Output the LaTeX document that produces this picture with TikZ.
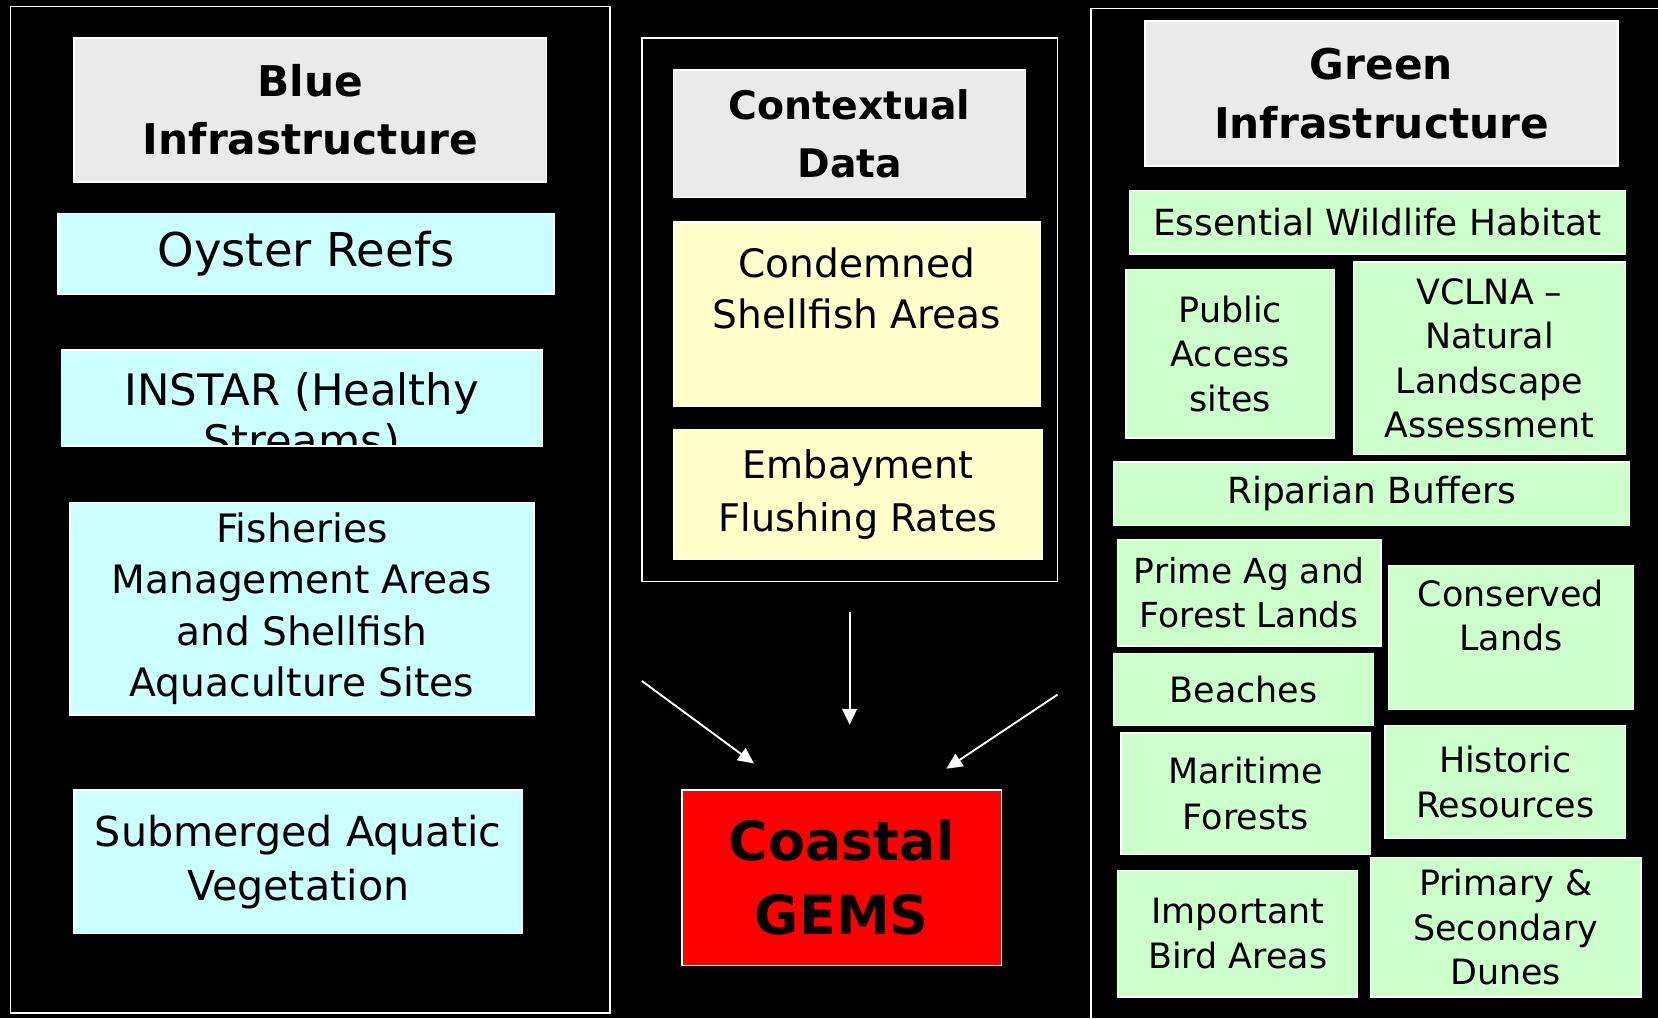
\documentclass[tikz,border=0pt]{standalone}
\usepackage{fontspec}
\setmainfont{DejaVu Sans}
\usetikzlibrary{arrows.meta}

\definecolor{headgray}{RGB}{234,234,234}
\definecolor{bluefill}{RGB}{204,255,255}
\definecolor{ctxfill}{RGB}{255,255,204}
\definecolor{greenfill}{RGB}{204,255,204}
\newcommand{\boxfont}[2]{\fontsize{#1}{#2}\selectfont}

\begin{document}
\begin{tikzpicture}[x=0.5pt,y=-0.5pt,>={Triangle[length=7.5pt,width=7pt]},
                    every node/.style={inner sep=0pt,align=center,text=black}]
  \tikzstyle{frame}=[rectangle,draw=white,line width=0.75pt]
  \tikzstyle{box}=[rectangle,draw=white,line width=0.7pt]
  \tikzstyle{headbox}=[box,fill=headgray,font=\bfseries\boxfont{20}{27.5}]
  \tikzstyle{bluebox}=[box,fill=bluefill]
  \tikzstyle{ctxbox}=[box,fill=ctxfill,font=\boxfont{18.5}{24.5}]
  \tikzstyle{greenbox}=[box,fill=greenfill,font=\boxfont{16.5}{21}]
  \tikzstyle{link}=[->,draw=white,line width=0.9pt]

  \useasboundingbox (0,0) rectangle (1568,963);
  \fill[black] (0,0) rectangle (1568,963);

  % columns
  \node[frame, minimum width=283.5pt, minimum height=476pt] (bluecol) at (293.5,482) {};
  \node[frame, minimum width=196.5pt, minimum height=257pt] (ctxcol) at (803.5,293) {};
  \node[frame, minimum width=284pt, minimum height=496pt] (greencol) at (1316,504) {};

  % blue infrastructure
  \node[headbox, minimum width=223.5pt, minimum height=68pt] (bluehead) at (293.5,104) {Blue\\Infrastructure};
  \node[bluebox, minimum width=234.5pt, minimum height=38pt, font=\boxfont{22}{26}] (oyster) at (289.5,240) {Oyster Reefs};
  \node[bluebox, minimum width=227.5pt, minimum height=45.5pt,
        path picture={\node[font=\boxfont{20.5}{24}] at ([yshift=-9pt]path picture bounding box.center) {INSTAR (Healthy\\Streams)};}]
        (instar) at (285.5,376.5) {};
  \node[bluebox, minimum width=219.5pt, minimum height=100.5pt, font=\boxfont{18.5}{24.3}] (fish) at (285.5,575.5)
        {Fisheries\\Management Areas\\and Shellfish\\Aquaculture Sites};
  \node[bluebox, minimum width=212pt, minimum height=68pt, font=\boxfont{19.5}{25.5}] (sav) at (282,815)
        {Submerged Aquatic\\Vegetation};

  % contextual data
  \node[headbox, minimum width=166.5pt, minimum height=60.5pt, font=\bfseries\boxfont{18.6}{27.5}] (ctxhead) at (803.5,126.5) {Contextual\\Data};
  \node[ctxbox, minimum width=173.5pt, minimum height=87pt] (condemned) at (810.5,297) {Condemned\\Shellfish Areas\\\mbox{}};
  \node[ctxbox, minimum width=174.5pt, minimum height=61.5pt, font=\boxfont{18}{25}] (embay) at (811.5,467.5) {Embayment\\Flushing Rates};

  % result
  \node[box, fill=red, minimum width=151pt, minimum height=83pt, font=\bfseries\boxfont{25.5}{35}] (gems) at (796,830) {Coastal\\GEMS};

  % green infrastructure
  \node[headbox, minimum width=223.5pt, minimum height=68.5pt] (greenhead) at (1306.5,88.5) {Green\\Infrastructure};
  \node[greenbox, minimum width=234.5pt, minimum height=30pt, font=\boxfont{17}{21}] (wildlife) at (1302.5,210) {Essential Wildlife Habitat};
  \node[greenbox, minimum width=98.5pt, minimum height=79.5pt] (public) at (1163.5,334.5) {Public\\Access\\sites};
  \node[greenbox, minimum width=128.5pt, minimum height=91pt] (vclna) at (1408.5,339) {VCLNA --\\Natural\\Landscape\\Assessment};
  \node[greenbox, minimum width=244pt, minimum height=30pt, font=\boxfont{17}{21}] (riparian) at (1297,467) {Riparian Buffers};
  \node[greenbox, minimum width=124.5pt, minimum height=50.5pt, font=\boxfont{16.3}{20.5}] (primeag) at (1181.5,560.5) {Prime Ag and\\Forest Lands};
  \node[greenbox, minimum width=116pt, minimum height=68pt] (conserved) at (1429,603) {Conserved\\Lands\\\mbox{}};
  \node[greenbox, minimum width=123pt, minimum height=34pt] (beaches) at (1176,652) {Beaches};
  \node[greenbox, minimum width=118pt, minimum height=57.5pt, font=\boxfont{16.5}{22}] (maritime) at (1178,750.5) {Maritime\\Forests};
  \node[greenbox, minimum width=113.5pt, minimum height=53.5pt] (historic) at (1423.5,739.5) {Historic\\Resources};
  \node[greenbox, minimum width=113.5pt, minimum height=60pt] (bird) at (1170.5,883) {Important\\Bird Areas};
  \node[greenbox, minimum width=128pt, minimum height=66pt] (dunes) at (1424,877) {Primary \&\\Secondary\\Dunes};

  % arrows into the gems box
  \coordinate (bluetail) at (607,644);
  \coordinate (bluetip) at (713,722);
  \coordinate (greentail) at (1000,657);
  \coordinate (greentip) at (895,727);
  \draw[link] (bluetail) -- (bluetip);
  \draw[link] (greentail) -- (greentip);
  \draw[link, shorten <=14pt, shorten >=30.5pt] (ctxcol.south) -- (ctxcol.south |- gems.north);
\end{tikzpicture}
\end{document}
